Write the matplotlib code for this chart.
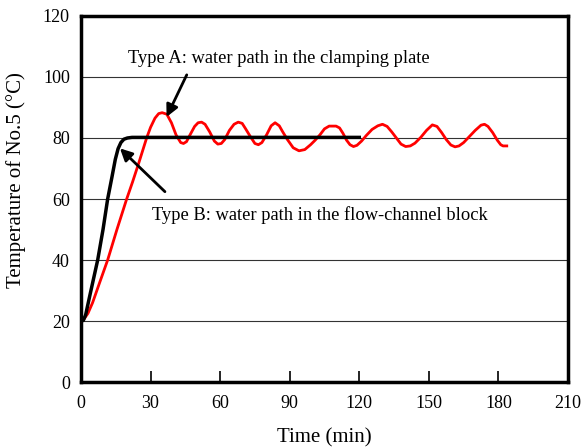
import matplotlib
matplotlib.use("Agg")
import matplotlib.pyplot as plt
from matplotlib.ticker import MultipleLocator

plt.rcParams['font.family'] = ['Liberation Serif', 'DejaVu Serif']

# Type A: water path in the clamping plate (red)
time_a = [0, 1, 3, 5, 8, 11.5, 15.5, 19.7, 22.2, 25, 28.3, 30, 31.9, 33.5, 35, 37, 39, 41, 43, 44.2,
          45.5, 47, 49, 50.5, 52, 53.5, 55.5, 57.5, 59, 60.5, 62, 64, 66, 67.8, 69.5, 71, 73, 75,
          76.5, 78, 80, 82, 83.7, 85.5, 87, 89, 91.5, 94, 96.5, 99, 101, 103, 105, 107, 110, 111.5,
          113, 114.5, 116, 117.5, 119, 121, 123, 125.5, 128, 130, 132, 134, 136, 138, 140, 142,
          144, 146.5, 149, 151.5, 153.5, 155.5, 157.5, 159.5, 161.3, 163, 165, 167.5, 170, 172.5,
          174, 175.5, 177.5, 179.5, 181, 182, 183.6]
temp_a = [20, 20.3, 22.5, 26, 32.5, 40, 50, 60, 65.5, 72, 80, 83.5, 86.5, 88, 88.3, 87.8, 85, 81, 78.5, 78.2,
          78.8, 81, 83.8, 85, 85.2, 84.5, 82, 79, 78, 78.2, 79.5, 82.5, 84.5, 85.2, 84.8, 83, 80.5, 78.2,
          77.8, 78.5, 81, 84, 85, 84, 82, 79.5, 76.8, 75.8, 76.2, 77.8, 79.3, 81, 83, 83.9, 83.9, 83.3,
          81.5, 79.3, 77.8, 77.2, 77.6, 79, 80.8, 82.8, 84, 84.5, 83.8, 82, 80, 78, 77.2, 77.4,
          78.3, 80.2, 82.5, 84.3, 83.8, 81.8, 79.5, 77.7, 77.1, 77.4, 78.5, 80.5, 82.5, 84.2,
          84.5, 83.8, 81.8, 79.3, 77.8, 77.4, 77.4]

# Type B: water path in the flow-channel block (black)
time_b = [0, 1, 2, 4, 7.2, 9.5, 11.5, 13.3, 14.8, 16, 17.2, 18.5, 20, 22, 120]
temp_b = [20, 20.2, 22, 29, 40, 50, 60, 67, 73, 76.5, 78.5, 79.6, 80, 80.2, 80.2]

fig = plt.figure(figsize=(5.81, 4.48), dpi=100)
ax = fig.add_axes([0.1394, 0.1473, 0.8382, 0.817])

ax.grid(True, axis='y', color='#333333', linewidth=0.8)
ax.set_axisbelow(True)

ax.plot(time_a, temp_a, color='#ff0000', linewidth=2.0, zorder=3)
ax.plot(time_b, temp_b, color='black', linewidth=2.5, zorder=4)

arrow = dict(arrowstyle='-|>', color='black', lw=2, mutation_scale=18, shrinkA=0, shrinkB=0)
ax.annotate('', xy=(36.9, 86.9), xytext=(45.6, 100.7), arrowprops=arrow, zorder=5)
ax.annotate('', xy=(16.8, 76.6), xytext=(36.2, 62.4), arrowprops=arrow, zorder=5)
ax.text(20.3, 106.2, 'Type A: water path in the clamping plate', fontsize=13.3,
        ha='left', va='center')
ax.text(30.6, 54.8, 'Type B: water path in the flow-channel block', fontsize=13.3,
        ha='left', va='center')

ax.set_xlim(0, 210)
ax.set_ylim(0, 120)
ax.xaxis.set_major_locator(MultipleLocator(30))
ax.yaxis.set_major_locator(MultipleLocator(20))

for s in ax.spines.values():
    s.set_linewidth(2.5)

ax.tick_params(axis='x', direction='in', length=8, width=1.2, pad=9, labelsize=13)
ax.tick_params(axis='y', length=0, pad=8, labelsize=13)

ax.set_xlabel('Time (min)', fontsize=15, labelpad=12)
ax.set_ylabel('Temperature of No.5 (\u00b0C)', fontsize=15)
ax.yaxis.set_label_coords(-0.113, 0.552)

fig.savefig('out.png', dpi=100)
